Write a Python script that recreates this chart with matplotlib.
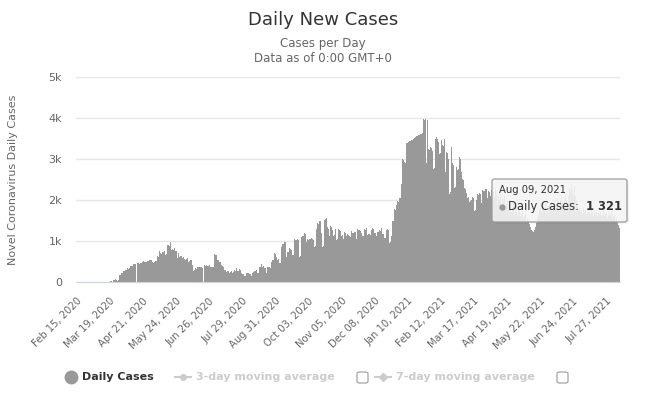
import numpy as np
import pandas as pd
import matplotlib
matplotlib.use("Agg")
import matplotlib.pyplot as plt
from matplotlib.patches import FancyBboxPatch
from matplotlib.lines import Line2D

# daily new cases, one value per day starting Feb 15, 2020
start_date = "2020-02-15"

wave_spring_2020 = [
    0, 0, 0, 0, 0, 0, 0, 0, 0, 0,
    0, 0, 0, 0, 0, 0, 0, 0, 0, 0,
    0, 0, 0, 0, 0, 0, 0, 0, 0, 0,
    0, 0, 0, 0,
    20, 35, 10, 60, 55, 70, 50, 20, 40, 170,
    180, 230, 220, 280, 270, 290, 300, 330, 320, 340,
    390, 380, 400, 440, 450, 450, 0, 455, 460, 450,
    470, 465, 480, 510, 500, 500, 490, 505, 520, 540,
    530, 545, 500, 470, 500, 520, 510, 630, 600, 760,
    700, 690, 740, 720, 760, 660, 680, 900, 900, 880,
    970, 780, 800, 790, 820, 760, 750, 580, 700, 620,
    640, 630, 580, 600, 560, 540, 550, 580, 500, 510,
    540, 530, 415, 280, 290, 330, 320, 360, 370, 360,
    355, 365, 340, 0, 415, 400, 410, 390, 400, 415,
    370, 370, 360, 680, 650, 660, 540,
]

summer_2020 = [
    540, 500, 490, 415, 390, 370, 290, 300, 250, 275,
    270, 230, 240, 275, 230, 235, 290, 280, 330, 275,
    270, 310, 300, 230, 195, 200, 145, 150, 210, 230,
    225, 195, 200, 145, 230, 240, 275, 270, 290, 210,
    215, 375, 370, 440, 375, 380, 335, 330, 230, 375,
    370, 360, 350, 500, 540, 530, 700, 690, 620, 540,
    550, 460, 470, 860, 930, 920, 985, 970, 620, 740,
    730, 820, 810, 780, 660, 670, 1040, 1030, 1025, 1040,
    1030, 620, 640, 1090, 1120, 1110, 1190, 1180, 985, 1040,
    1030, 1040, 1050, 1065, 1040, 1030, 860, 880, 1285, 1430,
    1420, 1500, 1490, 1190, 860, 880, 1510, 1530,
]

autumn_2020 = [
    1550, 1350, 1300, 1110, 1370, 1350, 1270, 1110, 1150, 1290,
    1025, 1060, 1290, 1280, 1250, 1120, 1140, 1040, 1230, 1200,
    1110, 1170, 1150, 1120, 1100, 1255, 1190, 1200, 1230, 1210,
    1040, 1290, 1260, 1270, 1250, 1190, 1110, 1130, 1290, 1270,
    1310, 1150, 1170, 1170, 1150, 1270, 1310, 1290, 1190, 1200,
    1120, 1230, 1210, 1270, 1250, 1310, 1170, 1180, 1065, 1080,
    1270, 1290, 1260, 940, 980, 1110,
]

winter_2021 = [
    1480, 1500, 1770, 1750, 1890, 1975, 1950, 2060, 2040, 2390,
    3000, 2980, 2920, 2900, 3380, 3400, 3420, 3430, 3440, 3460,
    3470, 3480, 3520, 3540, 3550, 3560, 3580, 3590, 3600, 3620,
    3630, 3980, 3950, 3970, 2900, 3960, 3250, 3230, 3300, 3280,
    3200, 2760, 2780, 3500, 3540, 3500, 3420, 3130, 3150, 3460,
    3340, 3320, 3500, 2680, 3170, 3150, 3000, 2140, 2200, 3300,
    2900, 2860, 2300, 2320, 2800, 2720, 2750, 3050, 3000, 2680,
    2510, 2480, 2300, 2280, 2180, 2060, 2080, 1950, 1980, 2000,
    2080, 2060, 1730, 1760, 2000, 2140, 2120, 2180, 2150, 1930,
    2250, 2230, 2280, 2260, 2060, 2220, 2200,
]

spring_2021 = [
    2100, 2250, 1950, 2200, 2050, 2300, 2150, 1900, 2100,
    2000, 2150, 1850, 2050, 1950, 2100, 1800, 1900, 2000, 1750,
    1850, 1950, 1700, 1800, 1900, 1650, 1750, 1850, 1600, 1700,
    1750, 1600, 1650, 1700, 1550, 1600, 1650, 1500, 1550, 1480,
    1420, 1350, 1280, 1240, 1210, 1260, 1350, 1440,
    1550, 1650, 1750, 1800, 1700, 1900, 1850, 1750, 1950, 1800, 1700, 1850,
    1900, 1800, 1950, 1850, 1750, 2000, 1900, 1850, 2050, 1950,
    1850, 2000, 2100, 1950, 1900, 2050, 2150, 2000, 1950, 2100,
    2300, 2200, 2400, 2250, 2150, 2350, 2100, 2000,
]

summer_2021 = [
    1850, 1750, 1800, 1700, 1750, 1650, 1800, 1700, 1750, 1650, 1700, 1800,
    1700, 1650, 1750, 1700, 1600, 1750, 1650, 1700, 1600, 1700,
    1650, 1700, 1600, 1650, 1750, 1600, 1650, 1700, 1550, 1650,
    1600, 1650, 1700, 1550, 1600, 1650, 1500, 1550, 1450, 1400, 1321,
]

y_ticks = [0, 1000, 2000, 3000, 4000, 5000]
y_tick_labels = ["0", "1k", "2k", "3k", "4k", "5k"]
tick_step = 33

W, H = 646, 400
BAR = "#999999"
TXT = "#333333"
SUB = "#666666"
OFF = "#cccccc"


def px(x, y):
    """Pixel position (from top-left) to figure fraction."""
    return x / W, 1 - y / H


def draw_legend(fig):
    y = 377
    fig.add_artist(Line2D([px(71, y)[0]], [px(71, y)[1]], marker="o", markersize=9,
                          color=BAR, transform=fig.transFigure))
    fig.text(*px(82, y), "Daily Cases", fontsize=8, fontweight="bold",
             color=TXT, va="center", ha="left")

    for x0, label, mk, box_x in [(175, "3-day moving average", "o", 357),
                                 (375, "7-day moving average", "D", 557)]:
        fig.add_artist(Line2D([px(x0, y)[0], px(x0 + 16, y)[0]], [px(x0, y)[1]] * 2,
                              color=OFF, lw=1.5, transform=fig.transFigure))
        fig.add_artist(Line2D([px(x0 + 8, y)[0]], [px(x0 + 8, y)[1]], marker=mk,
                              markersize=4, color=OFF, transform=fig.transFigure))
        fig.text(*px(x0 + 21, y), label, fontsize=8, fontweight="bold",
                 color=OFF, va="center", ha="left")
        bx, by = px(box_x, y + 6)
        fig.add_artist(FancyBboxPatch((bx, by), 11 / W, 11 / H,
                                      boxstyle="round,pad=0,rounding_size=0.004",
                                      transform=fig.transFigure, facecolor="white",
                                      edgecolor="#999999", lw=0.8))


def draw_tooltip(fig, date, value):
    x0, y0, x1, y1 = 492, 179, 627, 222
    sx, sy = px(x0 + 1.5, y1 + 1.5)
    fig.add_artist(FancyBboxPatch((sx, sy), (x1 - x0) / W, (y1 - y0) / H,
                                  boxstyle="round,pad=0,rounding_size=0.005",
                                  transform=fig.transFigure, facecolor="black",
                                  alpha=0.08, edgecolor="none"))
    bx, by = px(x0, y1)
    fig.add_artist(FancyBboxPatch((bx, by), (x1 - x0) / W, (y1 - y0) / H,
                                  boxstyle="round,pad=0,rounding_size=0.005",
                                  transform=fig.transFigure, facecolor="#f7f7f7",
                                  alpha=0.88, edgecolor="#999999", lw=1))
    fig.text(*px(499, 190), date, fontsize=7.2, color=TXT, va="center", ha="left")
    fig.add_artist(Line2D([px(502, 207)[0]], [px(502, 207)[1]], marker="o",
                          markersize=3.5, color=BAR, transform=fig.transFigure))
    fig.text(*px(508, 207), "Daily Cases:", fontsize=8.3, color=TXT,
             va="center", ha="left")
    fig.text(*px(622, 207), f"{value:,}".replace(",", " "), fontsize=8.3,
             fontweight="bold", color=TXT, va="center", ha="right")


def main():
    cases = np.array(wave_spring_2020 + summer_2020 + autumn_2020
                     + winter_2021 + spring_2021 + summer_2021)
    dates = pd.date_range(start_date, periods=len(cases), freq="D")
    x = np.arange(len(cases))

    fig = plt.figure(figsize=(W / 100, H / 100), dpi=100)
    left, top = px(76, 77)
    right, bottom = px(620, 282)
    ax = fig.add_axes([left, bottom, right - left, top - bottom])

    ax.bar(x, cases, width=1.0, color=BAR, linewidth=0, zorder=2)

    ax.set_xlim(-0.5, len(cases) - 0.5)
    ax.set_ylim(0, 5000)
    ax.set_yticks(y_ticks)
    ax.set_yticklabels(y_tick_labels)
    ax.yaxis.grid(True, color="#e6e6e6", lw=1, zorder=0)
    ax.set_axisbelow(True)

    ticks = x[::tick_step]
    ax.set_xticks(ticks)
    ax.set_xticklabels(dates[ticks].strftime("%b %d, %Y"), rotation=45,
                       ha="right", va="top", rotation_mode="anchor")
    ax.tick_params(axis="x", length=0, pad=10, labelsize=7.2, labelcolor=SUB)
    ax.tick_params(axis="y", length=0, pad=10, labelsize=8, labelcolor=SUB)

    for side in ["top", "right", "left"]:
        ax.spines[side].set_visible(False)
    ax.spines["bottom"].set_color("#ccd6eb")
    ax.spines["bottom"].set_zorder(3)

    ax.set_ylabel("Novel Coronavirus Daily Cases", fontsize=8, color=SUB, labelpad=22)

    fig.text(*px(323, 20), "Daily New Cases", fontsize=13, color=TXT,
             ha="center", va="center")
    fig.text(*px(323, 44), "Cases per Day", fontsize=8.5, color=SUB,
             ha="center", va="center")
    fig.text(*px(323, 58), "Data as of 0:00 GMT+0", fontsize=8.5, color=SUB,
             ha="center", va="center")

    draw_legend(fig)
    draw_tooltip(fig, dates[-1].strftime("%b %d, %Y"), int(cases[-1]))

    fig.savefig("out.png", dpi=100)


if __name__ == "__main__":
    main()
